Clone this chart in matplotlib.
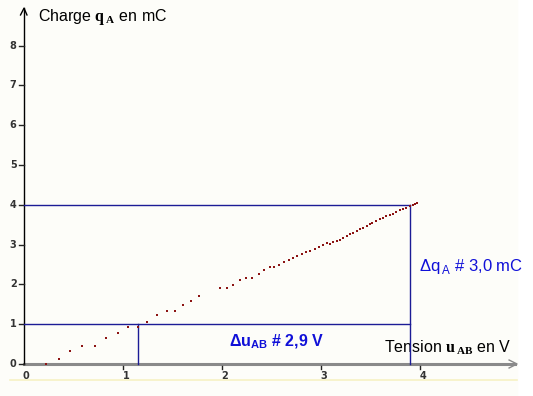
import matplotlib
matplotlib.use('Agg')

import matplotlib.pyplot as plt

# charge q_A (mC) vs tension u_AB (V)
u_ab = [0.22, 0.35, 0.46, 0.59, 0.72, 0.83, 0.95, 1.05, 1.15, 1.24, 1.34, 1.44,
        1.53, 1.61, 1.69, 1.77, 1.98, 2.05, 2.11, 2.18, 2.24, 2.30, 2.37, 2.42,
        2.48, 2.53, 2.58, 2.63, 2.68, 2.72, 2.76, 2.81, 2.85, 2.89, 2.94, 2.98,
        3.02, 3.06, 3.09, 3.12, 3.16, 3.19, 3.22, 3.26, 3.29, 3.32, 3.36, 3.39,
        3.42, 3.46, 3.49, 3.52, 3.56, 3.60, 3.63, 3.66, 3.70, 3.73, 3.76, 3.80,
        3.83, 3.86, 3.90, 3.93, 3.95, 3.97]
q_a = [0.00, 0.12, 0.33, 0.46, 0.46, 0.65, 0.79, 0.94, 0.94, 1.06, 1.23, 1.34,
       1.34, 1.48, 1.58, 1.72, 1.92, 1.92, 1.98, 2.10, 2.17, 2.17, 2.27, 2.36,
       2.43, 2.44, 2.49, 2.56, 2.61, 2.66, 2.71, 2.76, 2.81, 2.84, 2.89, 2.95,
       2.98, 3.03, 3.01, 3.06, 3.09, 3.12, 3.17, 3.22, 3.26, 3.30, 3.34, 3.38,
       3.42, 3.47, 3.51, 3.55, 3.59, 3.64, 3.67, 3.71, 3.74, 3.78, 3.83, 3.87,
       3.90, 3.93, 3.97, 4.00, 4.02, 4.04]

x_ticks = [1, 2, 3, 4]
y_ticks = [0, 1, 2, 3, 4, 5, 6, 7, 8]

# construction lines
u1, u2 = 1.15, 3.90
q1, q2 = 1.0, 4.0

plt.rcParams['mathtext.fontset'] = 'custom'
plt.rcParams['mathtext.rm'] = 'Liberation Sans'
plt.rcParams['mathtext.bf'] = 'Liberation Serif:bold'
plt.rcParams['mathtext.sf'] = 'Liberation Sans:bold'

fig = plt.figure(figsize=(5.33, 3.96), dpi=100, facecolor='white')
ax = fig.add_axes([0, 0, 1, 1])
ax.set_xlim(-24 / 99, 509 / 99)
ax.set_ylim(-32 / 39.8, 364 / 39.8)
ax.axis('off')

# faint paper background
ax.axvspan(-24 / 99, 4.98, color='#fdfdf9', zorder=0)
ax.plot([-0.14, 4.98], [-0.40, -0.40], color='#f6f2c4', lw=1.2, zorder=1)

# axes
ax.plot([0, 4.96], [0, 0], color='#8a8a8a', lw=2.2, zorder=2)
ax.plot([4.90, 4.98, 4.90], [0.10, 0.0, -0.10], color='#8a8a8a', lw=1, zorder=2)
ax.plot([0, 0], [0, 8.94], color='black', lw=1, zorder=3)
ax.plot([-0.035, 0, 0.03], [8.77, 8.94, 8.77], color='black', lw=1, zorder=3)

for t in y_ticks:
    ax.plot([-0.05, 0], [t, t], color='#222222', lw=1, zorder=3)
    ax.text(-0.075, t, str(t), ha='right', va='center', fontsize=7,
            fontweight='bold', color='#333333', family='DejaVu Sans')
for t in x_ticks:
    ax.plot([t, t], [-0.05, -0.12], color='#222222', lw=1, zorder=3)
    ax.text(t + 0.03, -0.30, str(t), ha='center', va='center', fontsize=7,
            fontweight='bold', color='#333333', family='DejaVu Sans')
ax.text(0.02, -0.30, '0', ha='center', va='center', fontsize=7,
        fontweight='bold', color='#333333', family='DejaVu Sans')

# blue construction lines
blue_line = '#1c1c96'
ax.plot([0, u2], [q2, q2], color=blue_line, lw=1, zorder=4)
ax.plot([0, u2], [q1, q1], color=blue_line, lw=1, zorder=4)
ax.plot([u2, u2], [0, q2], color=blue_line, lw=1, zorder=4)
ax.plot([u1, u1], [0, q1], color=blue_line, lw=1, zorder=4)

# measured points
ax.plot(u_ab, q_a, ls='none', marker='s', ms=2.1, mew=0, color='#8c1414', zorder=5)

# labels
ax.text(0.14, 8.72, r'Charge $\mathbf{q}_{\,\mathbf{A}}$ en mC', ha='left', va='center',
        fontsize=11.5, family='Liberation Sans', color='black')
ax.text(3.64, 0.40, r'Tension $\mathbf{u}_{\,\mathbf{AB}}$ en V', ha='left', va='center',
        fontsize=11.5, family='Liberation Sans', color='black')
ax.text(2.07, 0.55, r'Δu$_{\mathsf{AB}}$ # 2,9 V', ha='left', va='center',
        fontsize=11.5, fontweight='bold', family='Liberation Sans', color='#1010d8')
ax.text(3.99, 2.46, r'Δq$_{\,\mathrm{A}}$ # 3,0 mC', ha='left', va='center',
        fontsize=12, family='Liberation Sans', color='#1010d8')

fig.savefig('out.png', dpi=100, facecolor='white')
